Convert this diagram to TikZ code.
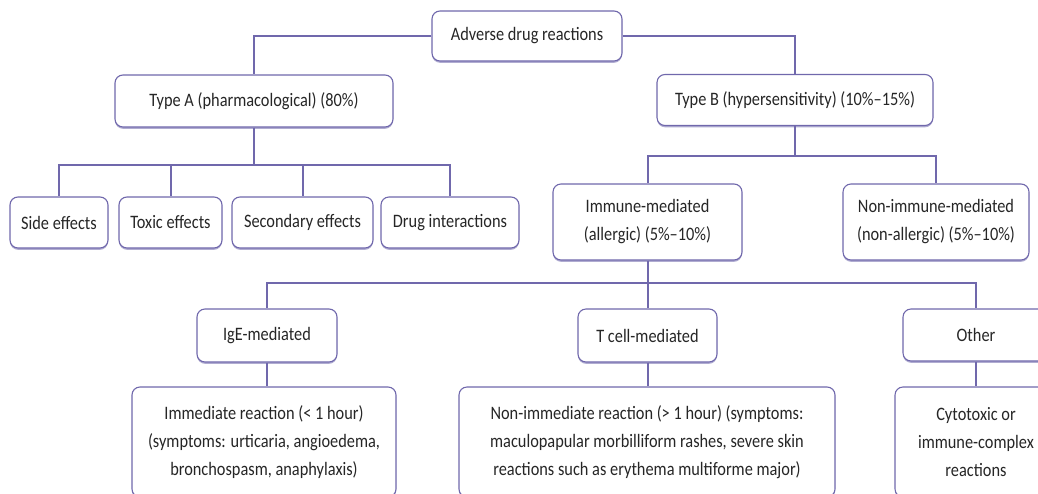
\documentclass[tikz,border=0pt]{standalone}
\usepackage{fontspec}
\setmainfont[FakeStretch=0.86]{Carlito}
\usetikzlibrary{shadows}

\begin{document}
\begin{tikzpicture}[x=1pt,y=-1pt,
  box/.style={draw=frame,line width=1.1pt,rounded corners=8pt,fill=white,
    inner sep=0pt,align=center,text=black!85,font=\fontsize{19}{28}\selectfont,
    drop shadow={shadow xshift=0pt,shadow yshift=-1.8pt,fill=frame!55,opacity=1}},
  link/.style={draw=frame,line width=2pt}]
  \definecolor{frame}{RGB}{112,104,172}

  \useasboundingbox (0,0) rectangle (1038,493);
  \clip (0,0) rectangle (1038,493);

  % top levels
  \node [box,minimum width=190pt,minimum height=50pt] (adr) at (527,36) {Adverse drug reactions};
  \node [box,minimum width=278pt,minimum height=52pt] (typeA) at (254,101) {Type A (pharmacological) (80\%)};
  \node [box,minimum width=276pt,minimum height=51pt] (typeB) at (795,100) {Type B (hypersensitivity) (10\%--15\%)};

  % type A
  \node [box,minimum width=98pt,minimum height=51pt]  (side)   at (59,222.5)  {Side effects};
  \node [box,minimum width=103pt,minimum height=51pt] (toxic)  at (170.5,222.5) {Toxic effects};
  \node [box,minimum width=141pt,minimum height=51pt] (second) at (302.5,222.5) {Secondary effects};
  \node [box,minimum width=138pt,minimum height=51pt] (inter)  at (450,222.5) {Drug interactions};

  % type B
  \node [box,minimum width=189pt,minimum height=76pt] (immune) at (647.5,222) {Immune-mediated\\(allergic) (5\%--10\%)};
  \node [box,minimum width=186pt,minimum height=76pt] (nonimm) at (936,222) {Non-immune-mediated\\(non-allergic) (5\%--10\%)};

  \node [box,minimum width=140pt,minimum height=53pt] (ige)   at (267,335.5) {IgE-mediated};
  \node [box,minimum width=139pt,minimum height=53pt] (tcell) at (647.5,335.5) {T cell-mediated};
  \node [box,minimum width=146pt,minimum height=52pt] (other) at (976,335) {Other};

  \node [box,minimum width=264pt,minimum height=110pt] (immed)    at (264,442) {Immediate reaction (< 1 hour)\\(symptoms: urticaria, angioedema,\\bronchospasm, anaphylaxis)};
  \node [box,minimum width=376pt,minimum height=110pt] (nonimmed) at (647,442) {Non-immediate reaction (> 1 hour) (symptoms:\\maculopapular morbilliform rashes, severe skin\\reactions such as erythema multiforme major)};
  \node [box,minimum width=162pt,minimum height=110pt] (cyto)     at (976,442) {Cytotoxic or\\immune-complex\\reactions};

  % connectors
  \draw [link] (adr.west) -| (typeA.north);
  \draw [link] (adr.east) -| (typeB.north);

  \coordinate (forkA) at (254,165);
  \draw [link] (typeA.south) -- (forkA);
  \foreach \leaf in {side,toxic,second,inter}
    \draw [link] (forkA) -| (\leaf.north);

  \coordinate (forkB) at (795,156);
  \draw [link] (typeB.south) -- (forkB);
  \foreach \leaf in {immune,nonimm}
    \draw [link] (forkB) -| (\leaf.north);

  \coordinate (forkC) at (647.5,283);
  \draw [link] (immune.south) -- (forkC);
  \foreach \leaf in {ige,tcell,other}
    \draw [link] (forkC) -| (\leaf.north);

  \draw [link] (ige.south) -- (ige.south |- immed.north);
  \draw [link] (tcell.south) -- (tcell.south |- nonimmed.north);
  \draw [link] (other.south) -- (other.south |- cyto.north);
\end{tikzpicture}
\end{document}
